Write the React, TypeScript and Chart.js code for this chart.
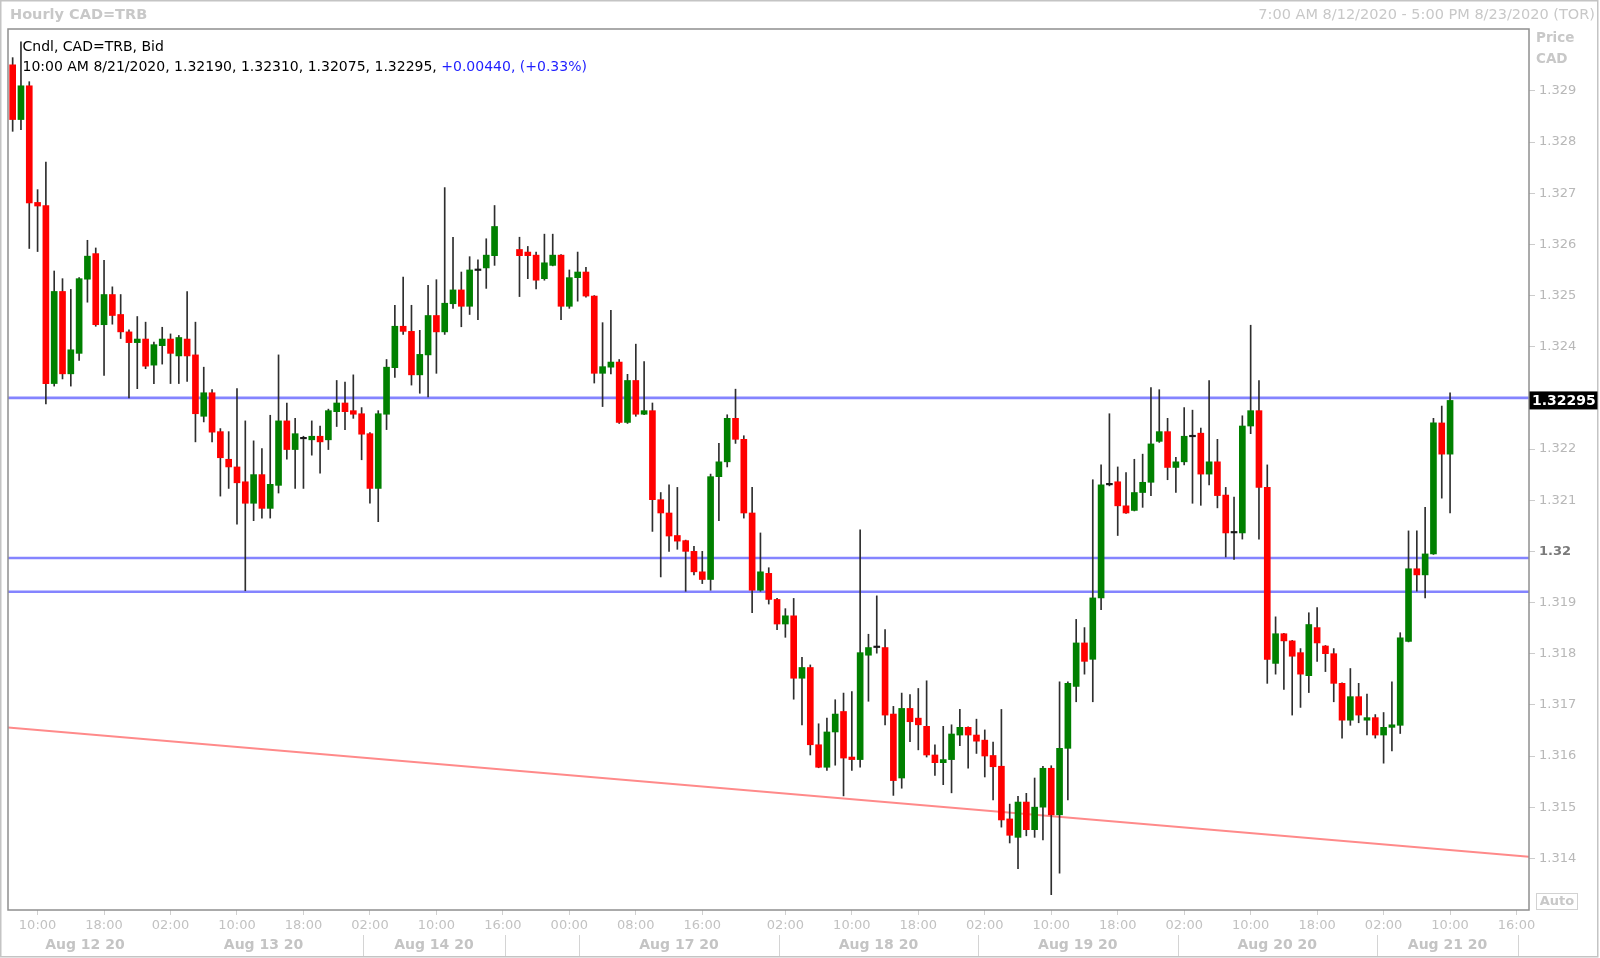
import React, { useEffect, useRef } from "react";
import { Chart, registerables } from "chart.js";

Chart.register(...registerables);

// Hourly candles, slot 0 = 7:00 AM Aug 12 2020 (slots 59, 60 are the empty weekend slots)
const OPEN: (number | null)[] = [
  1.32951, 1.32844, 1.32910, 1.32682, 1.32676, 1.32328, 1.32508, 1.32347, 1.32387, 1.32532,
  1.32582, 1.32443, 1.32502, 1.32463, 1.32429, 1.32408, 1.32415, 1.32364, 1.32402, 1.32415,
  1.32382, 1.32415, 1.32384, 1.32264, 1.32310, 1.32234, 1.32180, 1.32165, 1.32136, 1.32094,
  1.32150, 1.32084, 1.32129, 1.32255, 1.32199, 1.32220, 1.32218, 1.32225, 1.32218, 1.32273,
  1.32290, 1.32275, 1.32269, 1.32230, 1.32123, 1.32268, 1.32359, 1.32440, 1.32430, 1.32345,
  1.32384, 1.32461, 1.32429, 1.32484, 1.32511, 1.32479, 1.32549, 1.32554, 1.32578, null,
  null, 1.32590, 1.32585, 1.32579, 1.32533, 1.32559, 1.32579, 1.32479, 1.32535, 1.32546,
  1.32499, 1.32348, 1.32360, 1.32370, 1.32252, 1.32334, 1.32268, 1.32275, 1.32101, 1.32075,
  1.32031, 1.32021, 1.32000, 1.31960, 1.31945, 1.32146, 1.32175, 1.32260, 1.32219, 1.32075,
  1.31924, 1.31957, 1.31906, 1.31858, 1.31874, 1.31752, 1.31773, 1.31622, 1.31578, 1.31647,
  1.31687, 1.31598, 1.31593, 1.31797, 1.31812, 1.31812, 1.31682, 1.31557, 1.31693, 1.31674,
  1.31658, 1.31602, 1.31587, 1.31593, 1.31641, 1.31656, 1.31641, 1.31631, 1.31601, 1.31580,
  1.31477, 1.31441, 1.31510, 1.31456, 1.31500, 1.31576, 1.31485, 1.31615, 1.31736, 1.31821,
  1.31789, 1.31909, 1.32130, 1.32136, 1.32089, 1.32080, 1.32115, 1.32135, 1.32215, 1.32234,
  1.32164, 1.32175, 1.32224, 1.32231, 1.32151, 1.32175, 1.32110, 1.32036, 1.32036, 1.32245,
  1.32275, 1.32125, 1.31781, 1.31839, 1.31825, 1.31802, 1.31757, 1.31851, 1.31815, 1.31800,
  1.31742, 1.31670, 1.31716, 1.31670, 1.31675, 1.31641, 1.31656, 1.31660, 1.31824, 1.31966,
  1.31954, 1.31995, 1.32251, 1.32190,
];
const HIGH: (number | null)[] = [
  1.32965, 1.32996, 1.32918, 1.32707, 1.32761, 1.32548, 1.32533, 1.32512, 1.32535, 1.32608,
  1.32593, 1.32569, 1.32517, 1.32502, 1.32433, 1.32459, 1.32448, 1.32409, 1.32438, 1.32425,
  1.32422, 1.32508, 1.32448, 1.32360, 1.32316, 1.32240, 1.32234, 1.32318, 1.32255, 1.32216,
  1.32201, 1.32266, 1.32384, 1.32290, 1.32260, 1.32225, 1.32255, 1.32245, 1.32278, 1.32334,
  1.32331, 1.32345, 1.32281, 1.32232, 1.32275, 1.32375, 1.32481, 1.32536, 1.32481, 1.32432,
  1.32520, 1.32531, 1.32711, 1.32614, 1.32546, 1.32576, 1.32570, 1.32611, 1.32676, null,
  null, 1.32614, 1.32596, 1.32585, 1.32620, 1.32620, 1.32580, 1.32550, 1.32585, 1.32555,
  1.32500, 1.32447, 1.32471, 1.32375, 1.32346, 1.32405, 1.32371, 1.32290, 1.32115, 1.32130,
  1.32125, 1.32022, 1.32010, 1.32000, 1.32151, 1.32211, 1.32267, 1.32317, 1.32226, 1.32125,
  1.32036, 1.31968, 1.31908, 1.31888, 1.31908, 1.31793, 1.31778, 1.31663, 1.31674, 1.31710,
  1.31723, 1.31726, 1.32042, 1.31838, 1.31913, 1.31847, 1.31697, 1.31723, 1.31720, 1.31732,
  1.31747, 1.31622, 1.31658, 1.31661, 1.31691, 1.31657, 1.31672, 1.31651, 1.31627, 1.31691,
  1.31506, 1.31521, 1.31527, 1.31557, 1.31580, 1.31581, 1.31745, 1.31745, 1.31867, 1.31851,
  1.32140, 1.32169, 1.32269, 1.32165, 1.32154, 1.32180, 1.32190, 1.32320, 1.32316, 1.32260,
  1.32184, 1.32281, 1.32276, 1.32241, 1.32334, 1.32219, 1.32125, 1.32106, 1.32265, 1.32442,
  1.32334, 1.32169, 1.31872, 1.31840, 1.31826, 1.31810, 1.31880, 1.31890, 1.31816, 1.31810,
  1.31743, 1.31771, 1.31742, 1.31721, 1.31681, 1.31685, 1.31745, 1.31841, 1.32040, 1.32040,
  1.32086, 1.32260, 1.32284, 1.32310,
];
const LOW: (number | null)[] = [
  1.32821, 1.32824, 1.32592, 1.32586, 1.32288, 1.32323, 1.32337, 1.32323, 1.32373, 1.32487,
  1.32440, 1.32344, 1.32444, 1.32416, 1.32300, 1.32318, 1.32357, 1.32328, 1.32366, 1.32328,
  1.32328, 1.32332, 1.32214, 1.32253, 1.32214, 1.32108, 1.32123, 1.32053, 1.31923, 1.32060,
  1.32065, 1.32065, 1.32114, 1.32180, 1.32123, 1.32123, 1.32188, 1.32153, 1.32199, 1.32244,
  1.32238, 1.32260, 1.32179, 1.32094, 1.32058, 1.32238, 1.32340, 1.32424, 1.32325, 1.32309,
  1.32302, 1.32348, 1.32424, 1.32475, 1.32439, 1.32463, 1.32453, 1.32514, 1.32559, null,
  null, 1.32498, 1.32533, 1.32513, 1.32530, 1.32558, 1.32453, 1.32475, 1.32489, 1.32497,
  1.32329, 1.32283, 1.32347, 1.32250, 1.32250, 1.32264, 1.32267, 1.32039, 1.31950, 1.32000,
  1.32004, 1.31922, 1.31954, 1.31937, 1.31924, 1.32060, 1.32165, 1.32211, 1.32065, 1.31880,
  1.31922, 1.31897, 1.31847, 1.31832, 1.31711, 1.31661, 1.31602, 1.31577, 1.31572, 1.31582,
  1.31522, 1.31572, 1.31578, 1.31707, 1.31801, 1.31661, 1.31523, 1.31537, 1.31628, 1.31612,
  1.31598, 1.31562, 1.31544, 1.31528, 1.31620, 1.31576, 1.31605, 1.31559, 1.31514, 1.31461,
  1.31430, 1.31380, 1.31444, 1.31441, 1.31436, 1.31329, 1.31371, 1.31514, 1.31706, 1.31760,
  1.31706, 1.31886, 1.32128, 1.32031, 1.32074, 1.32079, 1.32086, 1.32109, 1.32213, 1.32140,
  1.32115, 1.32169, 1.32094, 1.32090, 1.32130, 1.32085, 1.31989, 1.31984, 1.32024, 1.32230,
  1.32024, 1.31742, 1.31760, 1.31730, 1.31680, 1.31695, 1.31724, 1.31785, 1.31765, 1.31706,
  1.31635, 1.31660, 1.31665, 1.31641, 1.31635, 1.31586, 1.31610, 1.31644, 1.31823, 1.31922,
  1.31909, 1.31994, 1.32104, 1.32075,
];
const CLOSE: (number | null)[] = [
  1.32844, 1.32910, 1.32681, 1.32675, 1.32328, 1.32508, 1.32347, 1.32394, 1.32533, 1.32577,
  1.32443, 1.32502, 1.32461, 1.32429, 1.32408, 1.32415, 1.32362, 1.32404, 1.32415, 1.32387,
  1.32418, 1.32382, 1.32269, 1.32310, 1.32233, 1.32183, 1.32165, 1.32134, 1.32094, 1.32150,
  1.32084, 1.32131, 1.32255, 1.32199, 1.32230, 1.32220, 1.32225, 1.32214, 1.32275, 1.32290,
  1.32273, 1.32268, 1.32229, 1.32123, 1.32269, 1.32360, 1.32440, 1.32430, 1.32345, 1.32385,
  1.32461, 1.32429, 1.32485, 1.32511, 1.32479, 1.32550, 1.32549, 1.32579, 1.32635, null,
  null, 1.32578, 1.32578, 1.32530, 1.32564, 1.32579, 1.32479, 1.32535, 1.32546, 1.32499,
  1.32348, 1.32361, 1.32370, 1.32252, 1.32334, 1.32268, 1.32275, 1.32101, 1.32075, 1.32030,
  1.32020, 1.32000, 1.31960, 1.31945, 1.32146, 1.32175, 1.32260, 1.32219, 1.32075, 1.31924,
  1.31960, 1.31906, 1.31858, 1.31874, 1.31752, 1.31773, 1.31622, 1.31578, 1.31647, 1.31682,
  1.31596, 1.31593, 1.31802, 1.31812, 1.31812, 1.31680, 1.31552, 1.31693, 1.31667, 1.31661,
  1.31602, 1.31587, 1.31593, 1.31643, 1.31656, 1.31641, 1.31629, 1.31600, 1.31579, 1.31475,
  1.31445, 1.31510, 1.31456, 1.31500, 1.31576, 1.31485, 1.31615, 1.31742, 1.31821, 1.31785,
  1.31909, 1.32130, 1.32130, 1.32089, 1.32075, 1.32115, 1.32135, 1.32210, 1.32234, 1.32164,
  1.32175, 1.32225, 1.32224, 1.32151, 1.32175, 1.32109, 1.32036, 1.32036, 1.32245, 1.32275,
  1.32125, 1.31789, 1.31839, 1.31825, 1.31795, 1.31760, 1.31857, 1.31821, 1.31800, 1.31742,
  1.31670, 1.31716, 1.31680, 1.31675, 1.31641, 1.31656, 1.31661, 1.31831, 1.31966, 1.31954,
  1.31995, 1.32251, 1.32190, 1.32295,
];

// x-axis (hour slots) tick labels
const X_TICK_SLOTS = [3, 11, 19, 27, 35, 43, 51, 59, 67, 75, 83, 93, 101, 109, 117, 125, 133, 141, 149, 157, 165, 173, 181];
const X_TICK_LABELS = [
  "10:00", "18:00", "02:00", "10:00", "18:00", "02:00", "10:00", "16:00", "00:00", "08:00", "16:00",
  "02:00", "10:00", "18:00", "02:00", "10:00", "18:00", "02:00", "10:00", "18:00", "02:00", "10:00", "16:00",
];
const DAY_LABELS = ["Aug 12 20", "Aug 13 20", "Aug 14 20", "Aug 17 20", "Aug 18 20", "Aug 19 20", "Aug 20 20", "Aug 21 20"];
const DAY_START_SLOT = [-0.8, 18.2, 42.2, 68.2, 92.2, 116.2, 140.2, 164.2];
const DAY_END_SLOT = [18.2, 42.2, 59.2, 92.2, 116.2, 140.2, 164.2, 181.2];

const Y_TICKS = [1.314, 1.315, 1.316, 1.317, 1.318, 1.319, 1.32, 1.321, 1.322, 1.323, 1.324, 1.325, 1.326, 1.327, 1.328, 1.329];

// drawn lines
const H_LEVELS = [1.323, 1.31987, 1.31921];
const TREND_START = 1.316555;
const TREND_END = 1.31403;

const X_MIN = -0.56;
const X_MAX = 182.5;
const Y_MIN = 1.31299;
const Y_MAX = 1.33021;

const FONT = "'DejaVu Sans', Verdana, sans-serif";
const LAST_TIME = "10:00 AM 8/21/2020";
const CHANGE_TEXT = "+0.00440, (+0.33%)";

const slots = OPEN.map((_, i) => i).filter((i) => OPEN[i] != null);
const candleColor = (i: number) => {
  const o = OPEN[i] as number;
  const c = CLOSE[i] as number;
  if (c > o) return "#008000";
  if (c < o) return "#ff0000";
  return "#1a1a1a";
};
const isRound = (c: any) => !!(c && c.tick && Math.abs(c.tick.value - 1.32) < 1e-9);

const decorPlugin = {
  id: "decor",
  beforeDraw(chart: any) {
    const { ctx, width, height } = chart;
    ctx.save();
    ctx.fillStyle = "#ffffff";
    ctx.fillRect(0, 0, width, height);
    ctx.restore();
  },
  afterDraw(chart: any) {
    const { ctx, chartArea, scales } = chart;
    const { left, right, top, bottom } = chartArea;
    const xs = scales.x;
    const ys = scales.y;
    ctx.save();

    // outer frame
    ctx.strokeStyle = "#c4c4c4";
    ctx.lineWidth = 1.5;
    ctx.strokeRect(0.75, 0.75, 1597, 956);

    // plot frame
    ctx.strokeStyle = "#8f8f8f";
    ctx.lineWidth = 1.5;
    ctx.strokeRect(left, top, right - left, bottom - top);

    // header
    ctx.textBaseline = "middle";
    ctx.fillStyle = "#c8c8c8";
    ctx.font = `bold 14.5px ${FONT}`;
    ctx.textAlign = "left";
    ctx.fillText("Hourly CAD=TRB", 10, 15.5);
    ctx.font = `14.5px ${FONT}`;
    ctx.textAlign = "right";
    ctx.fillText("7:00 AM 8/12/2020 - 5:00 PM 8/23/2020 (TOR)", 1595, 15.5);

    // legend lines inside plot
    const last = OPEN.length - 1;
    ctx.textAlign = "left";
    ctx.fillStyle = "#000000";
    ctx.font = `14px ${FONT}`;
    ctx.fillText("Cndl, CAD=TRB, Bid", 22.5, 47);
    const part1 =
      `${LAST_TIME}, ${(OPEN[last] as number).toFixed(5)}, ${(HIGH[last] as number).toFixed(5)}, ` +
      `${(LOW[last] as number).toFixed(5)}, ${(CLOSE[last] as number).toFixed(5)}, `;
    ctx.fillText(part1, 22.5, 67.5);
    const w1 = ctx.measureText(part1).width;
    ctx.fillStyle = "#1f1fff";
    ctx.fillText(CHANGE_TEXT, 22.5 + w1, 67.5);

    // price axis heading
    ctx.fillStyle = "#c8c8c8";
    ctx.font = `bold 13.5px ${FONT}`;
    ctx.fillText("Price", 1536, 38.5);
    ctx.fillText("CAD", 1536, 59.5);

    // current price box
    const lastClose = CLOSE[last] as number;
    const py = ys.getPixelForValue(lastClose);
    ctx.fillStyle = "#000000";
    ctx.fillRect(right + 0.5, py - 9, 1597 - right, 18);
    ctx.fillStyle = "#ffffff";
    ctx.font = `bold 14px ${FONT}`;
    ctx.fillText(lastClose.toFixed(5), right + 3, py + 0.5);

    // Auto box
    ctx.strokeStyle = "#d2d2d2";
    ctx.lineWidth = 1;
    ctx.strokeRect(1536.5, 893.5, 41, 16);
    ctx.fillStyle = "#c8c8c8";
    ctx.font = `bold 13px ${FONT}`;
    ctx.textAlign = "center";
    ctx.fillText("Auto", 1557, 902);

    // day separators and labels
    ctx.strokeStyle = "#d4d4d4";
    ctx.lineWidth = 1;
    const seps = DAY_END_SLOT.slice(1).concat([68.2]);
    seps.forEach((s) => {
      const px = Math.round(xs.getPixelForValue(s)) + 0.5;
      ctx.beginPath();
      ctx.moveTo(px, 935);
      ctx.lineTo(px, 956);
      ctx.stroke();
    });
    ctx.fillStyle = "#c4c4c4";
    ctx.font = `bold 14px ${FONT}`;
    ctx.textAlign = "center";
    DAY_LABELS.forEach((lab, k) => {
      const cx = xs.getPixelForValue((DAY_START_SLOT[k] + DAY_END_SLOT[k]) / 2);
      ctx.fillText(lab, cx, 945.5);
    });

    ctx.restore();
  },
};

export default function App() {
  const ref = useRef<HTMLCanvasElement | null>(null);

  useEffect(() => {
    if (!ref.current) return;
    const bodies = slots.map((i) => ({ x: i, y: [OPEN[i] as number, CLOSE[i] as number] }));
    const wicks = slots.map((i) => ({ x: i, y: [LOW[i] as number, HIGH[i] as number] }));
    const bodyColors = slots.map((i) => candleColor(i));

    const levelSets = H_LEVELS.map((v) => ({
      type: "line" as const,
      data: [
        { x: X_MIN, y: v },
        { x: X_MAX, y: v },
      ],
      borderColor: "#8484ff",
      borderWidth: 2.6,
      pointRadius: 0,
      order: 3,
    }));

    const chart = new Chart(ref.current, {
      type: "bar",
      data: {
        datasets: [
          {
            type: "bar",
            data: bodies as any,
            backgroundColor: bodyColors,
            borderWidth: 0,
            barThickness: 6,
            minBarLength: 1.5,
            grouped: false,
            order: 0,
          } as any,
          {
            type: "bar",
            data: wicks as any,
            backgroundColor: "#2e2e2e",
            borderWidth: 0,
            barThickness: 1,
            grouped: false,
            order: 1,
          } as any,
          ...levelSets,
          {
            type: "line",
            data: [
              { x: X_MIN, y: TREND_START },
              { x: X_MAX, y: TREND_END },
            ],
            borderColor: "#ff8a8a",
            borderWidth: 2,
            pointRadius: 0,
            order: 4,
          } as any,
        ],
      },
      options: {
        animation: false,
        responsive: false,
        devicePixelRatio: 1,
        layout: { padding: { left: 8, top: 29, right: 0, bottom: 0 } },
        plugins: { legend: { display: false }, tooltip: { enabled: false } },
        events: [],
        scales: {
          x: {
            type: "linear",
            min: X_MIN,
            max: X_MAX,
            offset: false,
            afterBuildTicks: (scale: any) => {
              scale.ticks = X_TICK_SLOTS.map((v) => ({ value: v }));
            },
            afterFit: (scale: any) => {
              scale.height = 48;
            },
            grid: {
              display: true,
              offset: false,
              drawOnChartArea: false,
              drawTicks: true,
              tickLength: 5,
              color: "#d0d0d0",
            },
            border: { display: false },
            ticks: {
              autoSkip: false,
              maxRotation: 0,
              padding: 3,
              color: "#c2c2c2",
              font: { family: FONT, size: 13 },
              callback: (_v: any, idx: number) => X_TICK_LABELS[idx] ?? "",
            },
          },
          y: {
            type: "linear",
            position: "right",
            min: Y_MIN,
            max: Y_MAX,
            afterBuildTicks: (scale: any) => {
              scale.ticks = Y_TICKS.map((v) => ({ value: v }));
            },
            afterFit: (scale: any) => {
              scale.width = 71;
            },
            grid: {
              display: true,
              offset: false,
              drawOnChartArea: false,
              drawTicks: true,
              tickLength: 6,
              color: "#cccccc",
            },
            border: { display: false },
            ticks: {
              padding: 4,
              autoSkip: false,
              callback: (v: any) => String(parseFloat(Number(v).toFixed(3))),
              color: (c: any) => (isRound(c) ? "#7a7a7a" : "#b8b8b8"),
              font: (c: any) => ({
                family: FONT,
                size: 13,
                weight: isRound(c) ? "bold" : "normal",
              }),
            },
          },
        },
      } as any,
      plugins: [decorPlugin],
    });
    return () => chart.destroy();
  }, []);

  return (
    <div style={{ position: "absolute", left: 0, top: 0, width: 1600, height: 958, background: "#fff" }}>
      <canvas ref={ref} width={1600} height={958} style={{ display: "block", width: 1600, height: 958 }} />
    </div>
  );
}
